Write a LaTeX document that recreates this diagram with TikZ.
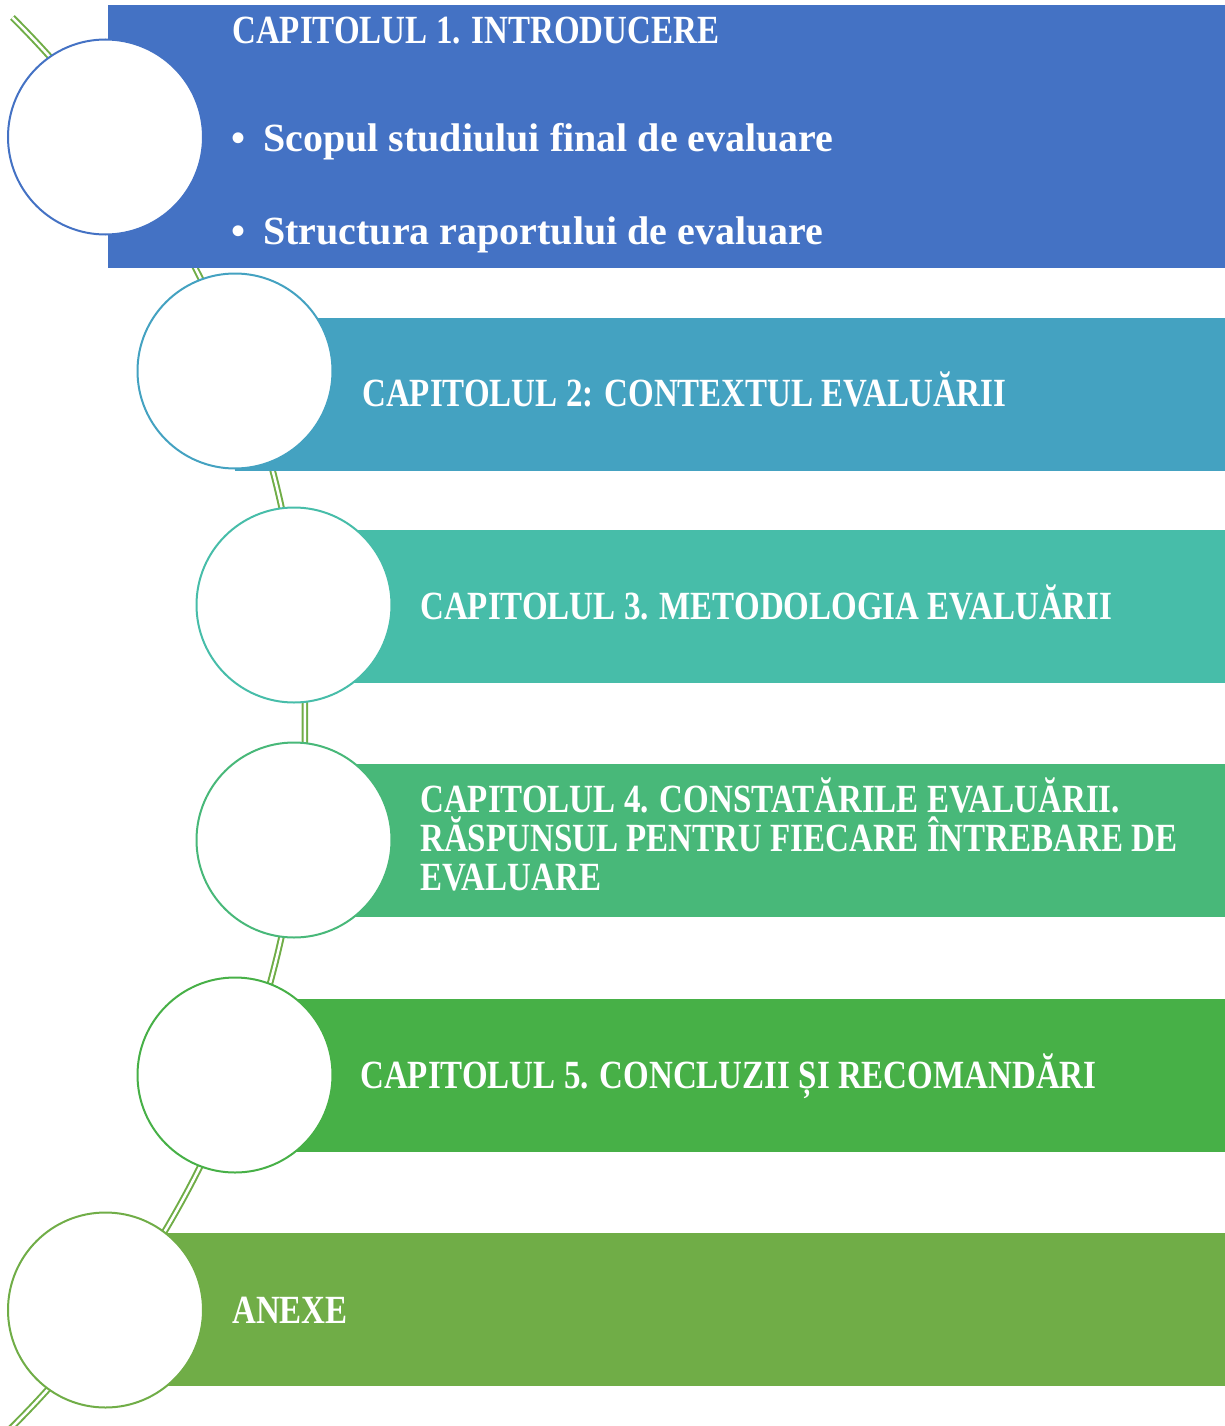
\documentclass[tikz,border=0pt]{standalone}
\usepackage{fontspec}
\setmainfont{Liberation Serif}[FakeStretch=0.825]
\newfontfamily\widefont{Liberation Serif}
\definecolor{colA}{HTML}{4472C4}
\definecolor{colB}{HTML}{44A2C1}
\definecolor{colC}{HTML}{47BDA9}
\definecolor{colD}{HTML}{48B879}
\definecolor{colE}{HTML}{47B047}
\definecolor{colF}{HTML}{70AD47}
\tikzset{
  band/.style={draw=none, inner sep=0pt, outer sep=0pt, anchor=north west, minimum width=#1},
  bubble/.style={circle, draw=#1, fill=white, line width=2pt, minimum size=195pt, inner sep=0pt},
  label/.style={anchor=base west, inner sep=0pt, text=white, font=\fontsize{40}{44}\selectfont\bfseries},
  widelabel/.style={anchor=base west, inner sep=0pt, text=white, font=\widefont\fontsize{40}{44}\selectfont\bfseries},
  track/.style={draw=colF, line width=2pt, double=white, double distance=2.5pt}
}
\begin{document}
\begin{tikzpicture}[x=1pt,y=-1pt]
\useasboundingbox (0,0) rectangle (1225,1426);
\clip (0,0) rectangle (1225,1426);
% background track (arc through the bubbles)
\coordinate (arcstart) at ({-689.7+994.7*cos(45.1)},{722-994.7*sin(45.1)});
\draw[track] (arcstart) arc[start angle=-45.1, end angle=46, radius=994.7];
% bands
\node[band, fill=colA, minimum width=1117pt, minimum height=263pt] (r1) at (108,5) {};
\node[band, fill=colB, minimum width=990pt, minimum height=153pt] (r2) at (235,318) {};
\node[band, fill=colC, minimum width=931pt, minimum height=153pt] (r3) at (294,530) {};
\node[band, fill=colD, minimum width=931pt, minimum height=153pt] (r4) at (294,764) {};
\node[band, fill=colE, minimum width=990pt, minimum height=153pt] (r5) at (235,999) {};
\node[band, fill=colF, minimum width=1120pt, minimum height=153pt] (r6) at (105,1233) {};
% bubbles
\node[bubble=colA] (c1) at (105.5,137) {};
\node[bubble=colB] (c2) at (235,371) {};
\node[bubble=colC] (c3) at (294,605) {};
\node[bubble=colD] (c4) at (294,840) {};
\node[bubble=colE] (c5) at (235,1075) {};
\node[bubble=colF] (c6) at (105.5,1310) {};
% texts
\node[label] (t1) at (232,44) {CAPITOLUL 1. INTRODUCERE};
\node[widelabel] (b1) at (231,151) {•};
\node[widelabel] (t1a) at (263,151) {Scopul studiului final de evaluare};
\node[widelabel] (b2) at (231,244) {•};
\node[widelabel] (t1b) at (263,244) {Structura raportului de evaluare};
\node[label] (t2) at (362,406) {CAPITOLUL 2: CONTEXTUL EVALUĂRII};
\node[label] (t3) at (420,619) {CAPITOLUL 3. METODOLOGIA EVALUĂRII};
\node[label] (t4a) at (420,812) {CAPITOLUL 4. CONSTATĂRILE EVALUĂRII.};
\node[label] (t4b) at (420,851) {RĂSPUNSUL PENTRU FIECARE ÎNTREBARE DE};
\node[label] (t4c) at (420,890) {EVALUARE};
\node[label] (t5) at (360,1088) {CAPITOLUL 5. CONCLUZII ȘI RECOMANDĂRI};
\node[label] (t6) at (232,1323) {ANEXE};
\end{tikzpicture}
\end{document}
